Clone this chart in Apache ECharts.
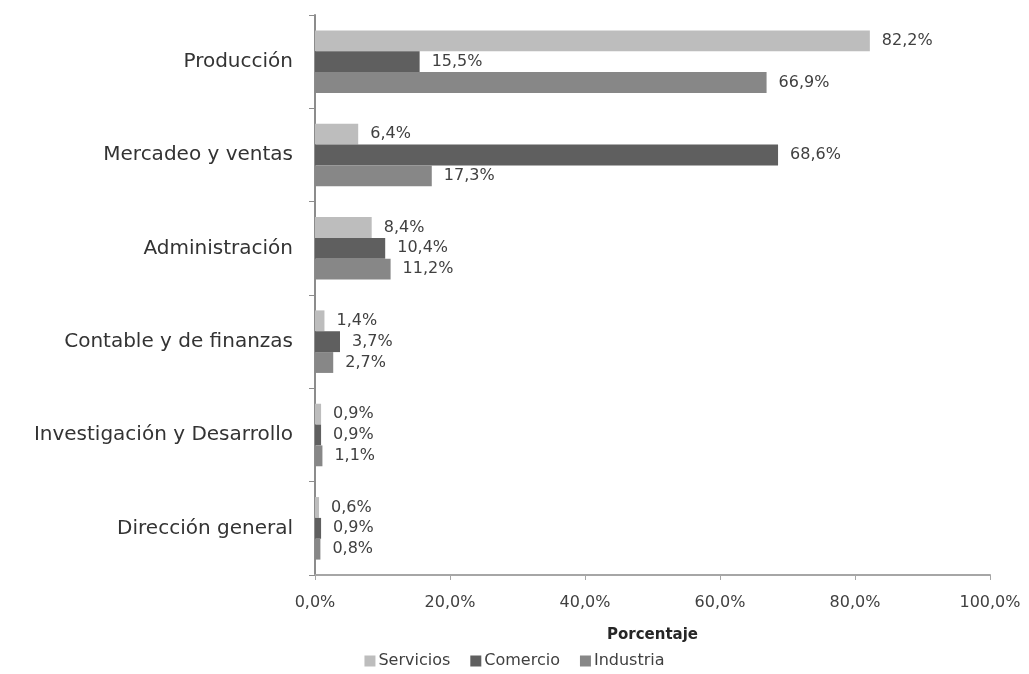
<!DOCTYPE html>
<html>
<head>
<meta charset="utf-8">
<script src="https://cdn.jsdelivr.net/npm/echarts@6/dist/echarts.min.js"></script>
<style>
  html, body { margin: 0; padding: 0; background: #fff; }
  #chart { width: 1029px; height: 674px; }
</style>
</head>
<body>
<div id="chart"></div>
<script>
const categories = ['Producción', 'Mercadeo y ventas', 'Administración', 'Contable y de finanzas', 'Investigación y Desarrollo', 'Dirección general']
const servicios = [82.2, 6.4, 8.4, 1.4, 0.9, 0.6]
const comercio = [15.5, 68.6, 10.4, 3.7, 0.9, 0.9]
const industria = [66.9, 17.3, 11.2, 2.7, 1.1, 0.8]
const seriesNames = ['Servicios', 'Comercio', 'Industria']
const colors = ['#bdbdbd', '#5f5f5f', '#878787']

const fmt = v => v.toFixed(1).replace('.', ',') + '%'
const font = 'DejaVu Sans'

const chart = echarts.init(document.getElementById('chart'))

const seriesData = [servicios, comercio, industria].map((d, i) => {
  return {
    type: 'bar',
    name: seriesNames[i],
    data: d,
    barGap: '0%',
    barCategoryGap: '33%',
    itemStyle: { color: colors[i] },
    label: {
      show: true,
      position: 'right',
      distance: 12,
      color: '#404040',
      fontFamily: font,
      fontSize: 16,
      formatter: p => fmt(p.value)
    }
  }
})

const option = {
  animation: false,
  color: colors,
  grid: { left: 315, right: 39, top: 15, bottom: 99 },
  xAxis: {
    type: 'value',
    min: 0,
    max: 100,
    interval: 20,
    name: 'Porcentaje',
    nameLocation: 'middle',
    nameGap: 53,
    nameTextStyle: { fontFamily: font, fontSize: 15, fontWeight: 'bold', color: '#262626' },
    axisLine: { show: true, lineStyle: { color: '#a6a6a6', width: 2 } },
    axisTick: { show: true, length: 5, lineStyle: { color: '#a6a6a6' } },
    splitLine: { show: false },
    axisLabel: {
      fontFamily: font,
      fontSize: 16,
      color: '#404040',
      margin: 20,
      formatter: v => fmt(v)
    }
  },
  yAxis: {
    type: 'category',
    data: categories,
    inverse: true,
    axisLine: { show: true, lineStyle: { color: '#8c8c8c', width: 2 } },
    axisTick: { show: true, length: 6, lineStyle: { color: '#8c8c8c' } },
    axisLabel: {
      fontFamily: font,
      fontSize: 20,
      color: '#333',
      margin: 22
    }
  },
  legend: {
    bottom: 0,
    left: 'center',
    itemWidth: 11,
    itemHeight: 11,
    itemGap: 20,
    icon: 'rect',
    textStyle: { fontFamily: font, fontSize: 16, color: '#404040', padding: [0, 0, 0, -2] },
    data: seriesNames
  },
  series: seriesData
}

chart.setOption(option)
</script>
</body>
</html>
